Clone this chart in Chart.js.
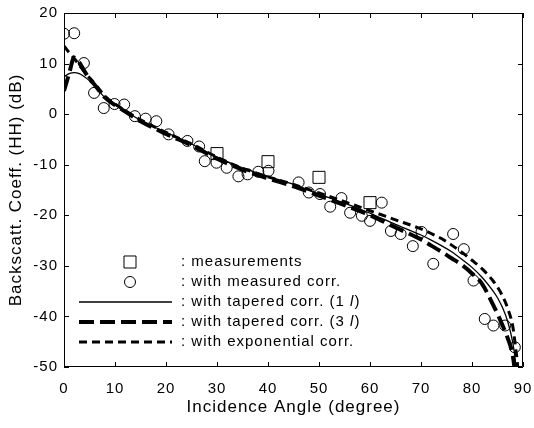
<!DOCTYPE html>
<html>
<head>
<meta charset="utf-8">
<title>Backscattering coefficient vs incidence angle</title>
<script src="https://cdn.jsdelivr.net/npm/chart.js@4/dist/chart.umd.min.js"></script>
<style>
  html, body { margin: 0; padding: 0; background: #fff; }
  canvas { display: block; }
</style>
</head>
<body>
<canvas id="chart" width="534" height="428"></canvas>
<script>
// backscatter (HH) vs incidence angle
// measured points, simulated points and three model curves

const measAngles = [30, 40, 50, 60]
const measValues = [-7.8, -9.4, -12.5, -17.5]

const corrAngles = [0, 2, 3.9, 5.9, 7.8, 9.9, 11.8, 13.9, 16, 18.1, 20.5, 24.2, 26.5, 27.6, 29.9,
  31.9, 34.2, 36, 38.1, 40.1, 46, 48, 50.2, 52.2, 54.4, 56.1, 58.4, 60, 62.3, 64.1, 66,
  68.4, 70.1, 72.4, 76.3, 78.4, 80.3, 82.5, 84.2, 86.5, 88.4]
const corrValues = [15.9, 16.0, 10.1, 4.2, 1.2, 2.0, 1.9, -0.4, -0.9, -1.4, -4.0, -5.3, -6.4, -9.3, -9.6,
  -10.6, -12.3, -11.9, -11.4, -11.2, -13.5, -15.5, -15.8, -18.3, -16.6, -19.5, -20.1, -21.1, -17.5, -23.1, -23.7,
  -26.1, -23.3, -29.6, -23.7, -26.7, -32.9, -40.5, -41.8, -41.8, -46.1]

const curveAngles = [0, 1, 2, 3, 4, 5, 6, 8, 10, 12, 15, 20, 25, 30, 35, 40, 45, 50, 55, 60, 65, 70,
  72, 74, 76, 78, 80, 82, 84, 85, 86, 87, 88, 88.5, 89, 89.5]
const taper1Values = [7.4, 8.0, 8.2, 8.0, 7.4, 6.6, 5.6, 3.3, 1.9, 0.6, -1.2, -3.6, -5.9, -8.5, -10.6, -12.3, -13.9, -15.8, -17.6, -19.6, -21.8, -23.9,
  -24.9, -26.0, -27.2, -28.7, -30.3, -32.3, -34.8, -36.3, -38.3, -41.0, -45.2, -48.8, -56, -64]
const taper3Values = [4.6, 8.0, 11.2, 10.2, 8.5, 7.0, 5.8, 3.3, 1.8, 0.5, -1.4, -3.9, -6.2, -8.8, -11.0, -12.7, -14.3, -16.1, -18.0, -20.0, -22.4, -24.8,
  -26.0, -27.2, -28.5, -29.8, -31.5, -33.6, -37.4, -39.5, -41.8, -44.3, -47.8, -52, -60, -68]
const expoValues = [13.5, 12.2, 11.0, 9.7, 8.4, 7.2, 6.1, 3.6, 2.0, 0.7, -1.1, -3.6, -5.9, -8.5, -10.7, -12.4, -13.9, -15.6, -17.3, -19.1, -20.9, -22.7,
  -23.6, -24.6, -25.9, -27.3, -28.9, -30.6, -32.8, -34.2, -36.0, -38.4, -42.0, -45.8, -50.5, -60]

const xTicks = [0, 10, 20, 30, 40, 50, 60, 70, 80, 90]
const yTicks = [-50, -40, -30, -20, -10, 0, 10, 20]

const FONT = '"Liberation Sans", Arial, Helvetica, sans-serif'
const INK = '#000'

const toPoints = (xs, ys) => xs.map((x, i) => ({ x: x, y: ys[i] }))

const lineSet = (label, values, width, dash) => ({
  label: label,
  data: toPoints(curveAngles, values),
  showLine: true,
  borderColor: INK,
  borderWidth: width,
  borderDash: dash,
  cubicInterpolationMode: 'monotone',
  pointRadius: 0,
  pointHoverRadius: 0,
  fill: false
})

const datasets = [
  {
    label: 'measurements',
    data: toPoints(measAngles, measValues),
    pointStyle: 'rect',
    pointRadius: 8.5,
    pointBorderWidth: 1,
    pointBorderColor: INK,
    pointBackgroundColor: 'rgba(0,0,0,0)',
    showLine: false
  },
  {
    label: 'with measured corr.',
    data: toPoints(corrAngles, corrValues),
    pointStyle: 'circle',
    pointRadius: 5.5,
    pointBorderWidth: 1,
    pointBorderColor: INK,
    pointBackgroundColor: 'rgba(0,0,0,0)',
    showLine: false
  },
  lineSet('with tapered corr. (1 l)', taper1Values, 1.3, []),
  lineSet('with tapered corr. (3 l)', taper3Values, 4, [15, 6]),
  lineSet('with exponential corr.', expoValues, 3, [8, 5])
]

// fixed axis boxes, no extra label padding, so the plot area is where we want it
const fitBox = (size, key) => s => {
  s[key] = size
  s.paddingTop = 0
  s.paddingBottom = 0
  s.paddingLeft = 0
  s.paddingRight = 0
}

// box round the axes, inward ticks on all four sides (matlab look)
const frameTicks = {
  id: 'frameTicks',
  beforeDraw(chart) {
    chart.ctx.letterSpacing = '1px'
  },
  afterDatasetsDraw(chart) {
    const { ctx, chartArea: a, scales: { x, y } } = chart
    const len = 5
    ctx.save()
    ctx.strokeStyle = INK
    ctx.lineWidth = 1
    ctx.setLineDash([])
    ctx.beginPath()
    ctx.rect(a.left + 0.5, a.top + 0.5, a.right - a.left - 1, a.bottom - a.top - 1)
    xTicks.forEach(v => {
      const px = Math.round(x.getPixelForValue(v)) + 0.5
      ctx.moveTo(px, a.bottom); ctx.lineTo(px, a.bottom - len)
      ctx.moveTo(px, a.top); ctx.lineTo(px, a.top + len)
    })
    yTicks.forEach(v => {
      const py = Math.round(y.getPixelForValue(v)) + 0.5
      ctx.moveTo(a.left, py); ctx.lineTo(a.left + len, py)
      ctx.moveTo(a.right, py); ctx.lineTo(a.right - len, py)
    })
    ctx.stroke()
    ctx.restore()
  }
}

// legend inside the axes: sample, then ": label"
const insideLegend = {
  id: 'insideLegend',
  afterDraw(chart) {
    const ctx = chart.ctx
    const rowY = [262, 282, 302, 322, 342]
    const sampleX = 130
    const lineFrom = 79
    const lineTo = 172
    const textX = 181

    ctx.save()
    ctx.letterSpacing = '1px'
    ctx.strokeStyle = INK
    ctx.fillStyle = INK
    ctx.textBaseline = 'middle'
    ctx.textAlign = 'left'

    chart.data.datasets.forEach((ds, i) => {
      const ry = rowY[i]
      ctx.lineWidth = ds.showLine ? ds.borderWidth : 1
      ctx.setLineDash(ds.showLine ? ds.borderDash : [])
      ctx.beginPath()
      if (!ds.showLine && ds.pointStyle === 'rect') {
        const s = ds.pointRadius * Math.SQRT1_2
        ctx.rect(sampleX - s, ry - s, 2 * s, 2 * s)
      } else if (!ds.showLine) {
        ctx.arc(sampleX, ry, ds.pointRadius, 0, Math.PI * 2)
      } else {
        ctx.moveTo(lineFrom, ry)
        ctx.lineTo(lineTo, ry)
      }
      ctx.stroke()

      // "(1 l)" -> l in italics
      const m = ds.label.match(/^(.*\(\d )l(\))$/)
      ctx.font = '15px ' + FONT
      if (m) {
        const head = ': ' + m[1]
        ctx.fillText(head, textX, ry)
        let cx = textX + ctx.measureText(head).width
        ctx.font = 'italic 15px ' + FONT
        ctx.fillText('l', cx, ry)
        cx += ctx.measureText('l').width
        ctx.font = '15px ' + FONT
        ctx.fillText(m[2], cx, ry)
      } else {
        ctx.fillText(': ' + ds.label, textX, ry)
      }
    })
    ctx.restore()
  }
}

Chart.defaults.font.family = FONT
Chart.defaults.color = INK

new Chart(document.getElementById('chart'), {
  type: 'scatter',
  data: { datasets: datasets },
  plugins: [frameTicks, insideLegend],
  options: {
    responsive: false,
    animation: false,
    events: [],
    layout: { padding: { top: 13, right: 11, left: 0, bottom: 0 } },
    plugins: {
      legend: { display: false },
      tooltip: { enabled: false }
    },
    scales: {
      x: {
        type: 'linear',
        min: 0,
        max: 90,
        afterFit: fitBox(61, 'height'),
        afterBuildTicks: s => { s.ticks = xTicks.map(v => ({ value: v })) },
        grid: { display: false, drawTicks: false },
        border: { display: false },
        ticks: { font: { size: 15 }, padding: 13, maxRotation: 0 },
        title: {
          display: true,
          text: 'Incidence Angle (degree)',
          font: { size: 17 },
          padding: { top: 0, bottom: 10 }
        }
      },
      y: {
        type: 'linear',
        min: -50,
        max: 20,
        afterFit: fitBox(64, 'width'),
        afterBuildTicks: s => { s.ticks = yTicks.map(v => ({ value: v })) },
        grid: { display: false, drawTicks: false },
        border: { display: false },
        ticks: { font: { size: 15 }, padding: 6 },
        title: {
          display: true,
          text: 'Backscatt. Coeff. (HH) (dB)',
          font: { size: 17 },
          padding: { top: 6, bottom: 0 }
        }
      }
    }
  }
})
</script>
</body>
</html>
